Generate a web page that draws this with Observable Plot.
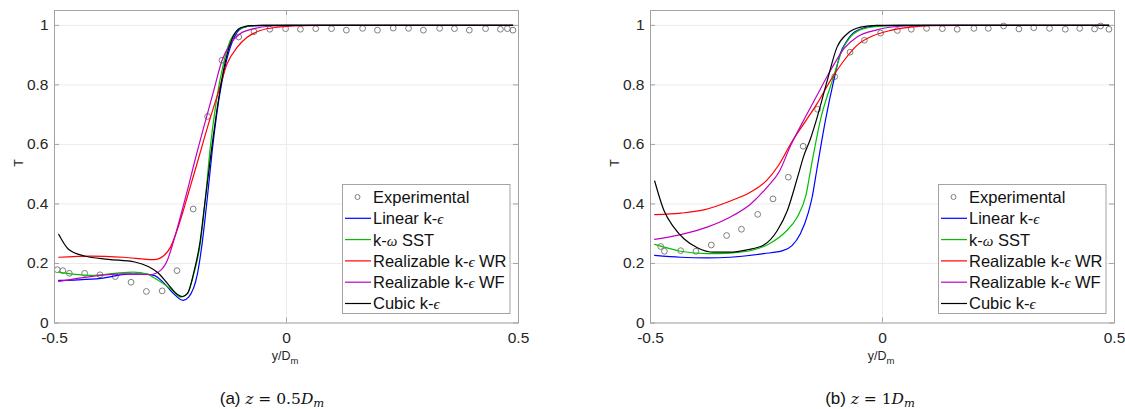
<!DOCTYPE html>
<html>
<head>
<meta charset="utf-8">
<script src="https://cdn.jsdelivr.net/npm/d3@7"></script>
<script src="https://cdn.jsdelivr.net/npm/@observablehq/plot@0.6"></script>
<style>
  body { margin: 0; background: #fff; }
  #fig { position: relative; width: 1125px; height: 409px; overflow: hidden; background: #fff; }
  #fig > svg { position: absolute; top: 0; }
</style>
</head>
<body>
<div id="fig"></div>
<script>
// ---------- shared text / ticks ----------
const xTicks = [-0.5, 0, 0.5];
const yTicks = [0, 0.2, 0.4, 0.6, 0.8, 1];
const yLabel = "T";
const xLabelMain = "y/D";
const xLabelSub = "m";
const expLabel = "Experimental";
const seriesNames = ["Linear k-ϵ", "k-ω SST", "Realizable k-ϵ WR", "Realizable k-ϵ WF", "Cubic k-ϵ"];
const seriesColors = ["#0000ff", "#00c000", "#ff0000", "#c000c0", "#000000"];
const captionA = ["(a) ", "z", " = 0.5", "D", "m"];
const captionB = ["(b) ", "z", " = 1", "D", "m"];

// ---------- panel (a): z = 0.5 Dm ----------
const expA_x = [-0.494, -0.482, -0.468, -0.435, -0.402, -0.369, -0.335, -0.302, -0.268, -0.236, -0.201, -0.170, -0.139, -0.103, -0.070, -0.036, -0.002, 0.030, 0.063, 0.097, 0.129, 0.164, 0.196, 0.230, 0.263, 0.295, 0.330, 0.362, 0.394, 0.429, 0.461, 0.476, 0.488];
const expA_T = [0.179, 0.176, 0.167, 0.167, 0.162, 0.156, 0.137, 0.106, 0.108, 0.176, 0.383, 0.694, 0.883, 0.961, 0.979, 0.987, 0.989, 0.987, 0.989, 0.989, 0.984, 0.990, 0.984, 0.991, 0.990, 0.984, 0.990, 0.989, 0.984, 0.989, 0.987, 0.989, 0.984];

const linA_x = [-0.491, -0.45, -0.40, -0.34, -0.31, -0.286, -0.264, -0.243, -0.223, -0.211, -0.192, -0.182, -0.170, -0.160, -0.146, -0.131, -0.117, -0.103, -0.09, -0.078, -0.05, 0, 0.488];
const linA_T = [0.143, 0.145, 0.150, 0.164, 0.164, 0.160, 0.134, 0.098, 0.076, 0.087, 0.165, 0.265, 0.43, 0.58, 0.748, 0.871, 0.944, 0.983, 0.994, 0.998, 1.0, 1.0, 1.0];

const sstA_x = [-0.491, -0.46, -0.42, -0.37, -0.33, -0.30, -0.28, -0.25, -0.228, -0.214, -0.2, -0.186, -0.174, -0.165, -0.151, -0.136, -0.121, -0.105, -0.09, -0.07, 0, 0.488];
const sstA_T = [0.171, 0.164, 0.160, 0.167, 0.171, 0.164, 0.147, 0.115, 0.087, 0.098, 0.164, 0.265, 0.43, 0.58, 0.748, 0.871, 0.95, 0.985, 0.995, 0.999, 1.0, 1.0];

const wrA_x = [-0.491, -0.422, -0.351, -0.286, -0.264, -0.25, -0.236, -0.221, -0.207, -0.192, -0.167, -0.146, -0.128, -0.106, -0.085, -0.056, -0.02, 0.016, 0.06, 0.488];
const wrA_T = [0.221, 0.225, 0.221, 0.213, 0.227, 0.255, 0.311, 0.385, 0.46, 0.54, 0.675, 0.78, 0.871, 0.927, 0.96, 0.983, 0.994, 0.998, 1.0, 1.0];

const wfA_x = [-0.491, -0.422, -0.351, -0.293, -0.272, -0.257, -0.243, -0.225, -0.212, -0.2, -0.178, -0.157, -0.139, -0.121, -0.1, -0.07, -0.034, 0, 0.488];
const wfA_T = [0.14, 0.156, 0.165, 0.163, 0.176, 0.21, 0.277, 0.378, 0.455, 0.53, 0.66, 0.78, 0.882, 0.938, 0.972, 0.989, 0.998, 1.0, 1.0];

const cubA_x = [-0.491, -0.47, -0.435, -0.384, -0.327, -0.298, -0.277, -0.255, -0.235, -0.224, -0.213, -0.199, -0.186, -0.177, -0.162, -0.147, -0.133, -0.119, -0.104, -0.09, -0.075, -0.05, 0, 0.488];
const cubA_T = [0.298, 0.248, 0.225, 0.214, 0.205, 0.19, 0.169, 0.130, 0.096, 0.089, 0.10, 0.175, 0.276, 0.39, 0.578, 0.746, 0.87, 0.948, 0.987, 0.996, 0.999, 1.0, 1.0, 1.0];

// ---------- panel (b): z = 1 Dm ----------
const expB_x = [-0.478, -0.470, -0.435, -0.402, -0.369, -0.336, -0.304, -0.269, -0.236, -0.203, -0.171, -0.140, -0.103, -0.070, -0.039, -0.004, 0.032, 0.062, 0.095, 0.129, 0.161, 0.197, 0.228, 0.261, 0.294, 0.326, 0.360, 0.394, 0.425, 0.457, 0.470, 0.488];
const expB_T = [0.257, 0.241, 0.243, 0.241, 0.262, 0.294, 0.315, 0.365, 0.417, 0.49, 0.594, 0.718, 0.828, 0.910, 0.950, 0.974, 0.983, 0.987, 0.990, 0.989, 0.987, 0.990, 0.990, 0.998, 0.988, 0.992, 0.990, 0.987, 0.990, 0.988, 0.998, 0.987];

const linB_x = [-0.491, -0.435, -0.378, -0.328, -0.256, -0.215, -0.195, -0.177, -0.16, -0.152, -0.141, -0.123, -0.105, -0.091, -0.076, -0.055, -0.019, 0.03, 0.488];
const linB_T = [0.227, 0.221, 0.219, 0.221, 0.233, 0.243, 0.26, 0.30, 0.37, 0.42, 0.52, 0.681, 0.815, 0.905, 0.95, 0.983, 0.997, 1.0, 1.0];

const sstB_x = [-0.491, -0.435, -0.378, -0.328, -0.277, -0.24, -0.21, -0.184, -0.165, -0.152, -0.134, -0.108, -0.087, -0.069, -0.04, 0.003, 0.05, 0.488];
const sstB_T = [0.264, 0.241, 0.233, 0.235, 0.246, 0.27, 0.305, 0.355, 0.43, 0.54, 0.681, 0.815, 0.916, 0.961, 0.989, 0.998, 1.0, 1.0];

const wrB_x = [-0.491, -0.435, -0.385, -0.328, -0.284, -0.249, -0.224, -0.195, -0.165, -0.141, -0.112, -0.083, -0.055, -0.019, 0.017, 0.060, 0.103, 0.2, 0.488];
const wrB_T = [0.364, 0.369, 0.38, 0.41, 0.44, 0.48, 0.53, 0.61, 0.68, 0.737, 0.815, 0.882, 0.933, 0.966, 0.983, 0.994, 0.999, 1.0, 1.0];

const wfB_x = [-0.491, -0.435, -0.378, -0.328, -0.284, -0.249, -0.222, -0.198, -0.172, -0.141, -0.112, -0.083, -0.055, -0.012, 0.039, 0.1, 0.488];
const wfB_T = [0.281, 0.297, 0.322, 0.356, 0.40, 0.456, 0.51, 0.596, 0.675, 0.765, 0.849, 0.922, 0.961, 0.985, 0.997, 1.0, 1.0];

const cubB_x = [-0.491, -0.471, -0.45, -0.428, -0.399, -0.364, -0.328, -0.292, -0.256, -0.227, -0.205, -0.183, -0.17, -0.155, -0.141, -0.119, -0.098, -0.076, -0.047, -0.012, 0.488];
const cubB_T = [0.477, 0.378, 0.322, 0.283, 0.253, 0.238, 0.238, 0.246, 0.262, 0.31, 0.378, 0.49, 0.56, 0.62, 0.69, 0.815, 0.927, 0.972, 0.994, 1.0, 1.0];

// ---------- helpers ----------
const rows = (xs, ts) => xs.map((x, i) => ({x, T: ts[i]}));
const FRAME = "#a3a3a3";
const GRID = "#ebebeb";
const SANS = "'Liberation Sans', Arial, Helvetica, sans-serif";
const SERIF = "'DejaVu Serif', serif";

function splitGreek(s) {
  return s.split(/([ϵω])/).filter(p => p.length).map(p => [p, /[ϵω]/.test(p)]);
}

function makePanel(exp, curves, caption) {
  const svg = Plot.plot({
    width: 530, height: 409,
    marginLeft: 54, marginRight: 12, marginTop: 10, marginBottom: 86.5,
    style: {background: "white", fontFamily: SANS, fontSize: "15.5px", color: "#262626"},
    x: {domain: [-0.5, 0.5]},
    y: {domain: [0, 1.05]},
    marks: [
      Plot.ruleY(yTicks, {stroke: GRID, strokeWidth: 1}),
      Plot.ruleX(xTicks, {stroke: GRID, strokeWidth: 1}),
      Plot.dot(exp, {x: "x", y: "T", r: 2.9, stroke: "#707070", strokeWidth: 0.9, fill: "none"}),
      ...curves.map((c, i) => Plot.line(c, {x: "x", y: "T", stroke: seriesColors[i], strokeWidth: 1.2, curve: "monotone-x"})),
      Plot.frame({stroke: FRAME, strokeWidth: 1}),
      Plot.ruleY(yTicks, {x1: -0.5, x2: -0.5 + 5 / 464, stroke: FRAME}),
      Plot.ruleY(yTicks, {x1: 0.5 - 5 / 464, x2: 0.5, stroke: FRAME}),
      Plot.ruleX(xTicks, {y1: 0, y2: 5 / 297.6, stroke: FRAME}),
      Plot.ruleX(xTicks, {y1: 1.05 - 5 / 297.6, y2: 1.05, stroke: FRAME}),
      Plot.axisX(xTicks, {tickSize: 0, tickPadding: 9, tickFormat: d => String(d), label: null, fontSize: 15.5}),
      Plot.axisY(yTicks, {tickSize: 0, tickPadding: 6, tickFormat: d => String(d), label: null, fontSize: 15.5}),
      Plot.text([yLabel], {frameAnchor: "left", dx: -36, rotate: -90, fontSize: 12.5, fill: "#262626"})
    ]
  });
  const s = d3.select(svg);

  // x label with subscript
  const xl = s.append("text").attr("x", 285).attr("y", 360).attr("text-anchor", "middle")
    .attr("font-family", SANS).attr("font-size", 12.5).attr("fill", "#262626");
  xl.append("tspan").text(xLabelMain);
  xl.append("tspan").attr("font-size", 9.5).attr("dy", 4).text(xLabelSub);

  // legend
  const g = s.append("g").attr("text-anchor", "start");
  g.append("rect").attr("x", 342.5).attr("y", 184.5).attr("width", 167.5).attr("height", 129)
    .attr("fill", "white").attr("stroke", FRAME);
  [expLabel, ...seriesNames].forEach((lab, i) => {
    const cy = 197 + i * 21.3;
    if (i === 0) {
      g.append("circle").attr("cx", 357.5).attr("cy", cy).attr("r", 2.5)
        .attr("fill", "none").attr("stroke", "#707070").attr("stroke-width", 0.9);
    } else {
      g.append("line").attr("x1", 345).attr("x2", 371).attr("y1", cy).attr("y2", cy)
        .attr("stroke", seriesColors[i - 1]).attr("stroke-width", 1.2);
    }
    const t = g.append("text").attr("x", 373).attr("y", cy).attr("dy", "0.36em")
      .attr("text-anchor", "start")
      .attr("font-family", SANS).attr("font-size", 16.5).attr("fill", "#111");
    splitGreek(lab).forEach(([p, greek]) => {
      const ts = t.append("tspan").text(p);
      if (greek) ts.attr("font-family", "'Liberation Serif', serif").attr("font-style", "italic").attr("font-size", 15);
    });
  });

  // caption
  const c = s.append("text").attr("x", caption.cx).attr("y", 404).attr("text-anchor", "middle").attr("fill", "#111");
  const [pre, zv, mid, dv, sub] = caption.parts;
  c.append("tspan").attr("font-family", SANS).attr("font-size", 17).text(pre);
  c.append("tspan").attr("font-family", SERIF).attr("font-style", "italic").attr("font-size", 15.5).text(zv);
  c.append("tspan").attr("font-family", SERIF).attr("font-size", 15.5).text(mid);
  c.append("tspan").attr("font-family", SERIF).attr("font-style", "italic").attr("font-size", 15.5).text(dv);
  c.append("tspan").attr("font-family", SERIF).attr("font-style", "italic").attr("font-size", 11.5).attr("dy", 3).text(sub);
  return svg;
}

const fig = document.getElementById("fig");
const svgA = makePanel(rows(expA_x, expA_T),
  [rows(linA_x, linA_T), rows(sstA_x, sstA_T), rows(wrA_x, wrA_T), rows(wfA_x, wfA_T), rows(cubA_x, cubA_T)],
  {cx: 272, parts: captionA});
svgA.style.left = "0px";
fig.appendChild(svgA);

const svgB = makePanel(rows(expB_x, expB_T),
  [rows(linB_x, linB_T), rows(sstB_x, sstB_T), rows(wrB_x, wrB_T), rows(wfB_x, wfB_T), rows(cubB_x, cubB_T)],
  {cx: 274, parts: captionB});
svgB.style.left = "596px";
fig.appendChild(svgB);
</script>
</body>
</html>
